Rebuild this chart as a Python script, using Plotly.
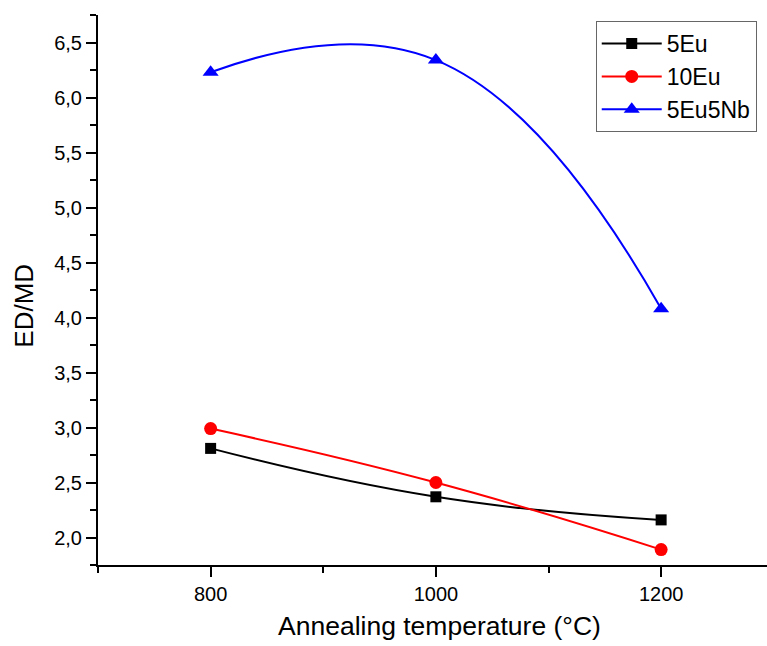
import plotly.graph_objects as go

temps = [800, 1000, 1200]
eu5 = [2.81, 2.37, 2.16]
eu10 = [2.99, 2.50, 1.89]
eu5nb5 = [6.23, 6.34, 4.08]
names = ["5Eu", "10Eu", "5Eu5Nb"]
colors = ["black", "red", "blue"]
symbols = ["square", "circle", "triangle-up"]
msizes = [11, 13, 14]

fig = go.Figure()
for name, vals, c, s, ms in zip(names, [eu5, eu10, eu5nb5], colors, symbols, msizes):
    fig.add_trace(go.Scatter(
        x=temps, y=vals, name=name, mode="lines+markers",
        line=dict(color=c, width=2, shape="spline", smoothing=1.3),
        marker=dict(symbol=s, size=ms, color=c),
    ))

font = "Liberation Sans, Arial, sans-serif"
fig.update_layout(
    width=767, height=646,
    margin=dict(l=98, r=0, t=15, b=81),
    plot_bgcolor="white", paper_bgcolor="white",
    separators=", ",
    font=dict(family=font, size=20, color="black"),
    showlegend=True,
    legend=dict(x=0.744, y=0.989, xanchor="left", yanchor="top",
                bordercolor="#666", borderwidth=1, bgcolor="white",
                font=dict(size=23), tracegroupgap=0, itemwidth=60),
    xaxis=dict(
        range=[700, 1294], showgrid=False, zeroline=False,
        showline=True, linecolor="black", linewidth=2,
        ticks="outside", ticklen=10, tickwidth=2, tickcolor="black",
        tickvals=[800, 1000, 1200], ticktext=["800", "1000", "1200"],
        minor=dict(ticks="outside", ticklen=6, tickwidth=2, tickcolor="black", tickvals=[700, 900, 1100]),
        tickfont=dict(size=20),
    ),
    yaxis=dict(
        range=[1.75, 6.75], showgrid=False, zeroline=False,
        showline=True, linecolor="black", linewidth=2,
        ticks="outside", ticklen=10, tickwidth=2, tickcolor="black",
        dtick=0.5, tick0=2.0, tickformat=".1f",
        minor=dict(ticks="outside", ticklen=6, tickwidth=2, tickcolor="black", dtick=0.25),
        tickfont=dict(size=20),
    ),
    annotations=[
        dict(text="ED/MD", textangle=-90, xref="paper", yref="paper",
             x=-0.111, y=0.471, xanchor="center", yanchor="middle",
             showarrow=False, font=dict(size=26)),
        dict(text="Annealing temperature (\u00b0C)", xref="paper", yref="paper",
             x=0.511, y=-0.111, xanchor="center", yanchor="middle",
             showarrow=False, font=dict(size=26.5)),
    ],
)
fig.write_html("out.html")
